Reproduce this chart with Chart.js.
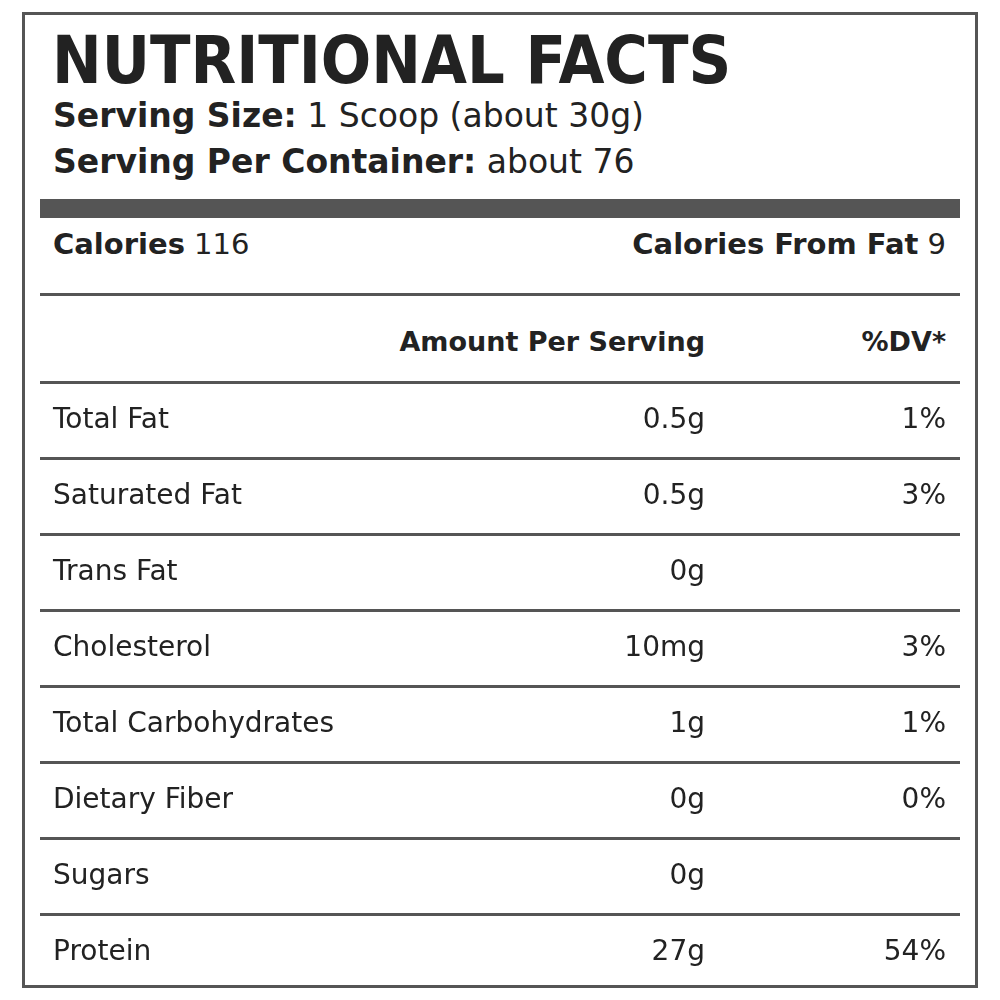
<!DOCTYPE html>
<html>
<head>
<meta charset="utf-8">
<script src="https://cdn.jsdelivr.net/npm/chart.js@4"></script>
<style>
  html, body { margin: 0; padding: 0; background: #fff; }
  body { width: 1000px; height: 1000px; position: relative; font-family: "DejaVu Sans", sans-serif; color: #222; }
  .box { position: absolute; left: 22px; top: 12px; width: 956px; height: 976px; border: 3px solid #555; box-sizing: border-box; }
  .t { position: absolute; white-space: nowrap; line-height: 1; }
  .title { left: 52px; top: 28px; font-size: 66px; font-weight: bold; color: #222; font-family: "DejaVu Sans Condensed", "DejaVu Sans", sans-serif; }
  .sub { font-size: 33px; }
  .bar { position: absolute; left: 40px; top: 199px; width: 920px; height: 19px; background: #555; }
  .rule { position: absolute; left: 40px; width: 920px; height: 3px; background: #555; }
  b { font-weight: bold; }
  #wrap { position: absolute; left: 40px; top: 381px; width: 920px; height: 608px; }
</style>
</head>
<body>
<div class="box"></div>
<div class="t title">NUTRITIONAL FACTS</div>
<div class="t sub" style="left:53px; top:99px;"><b>Serving Size:</b> 1 Scoop (about 30g)</div>
<div class="t sub" style="left:53px; top:145px;"><b>Serving Per Container:</b> about 76</div>
<div class="bar"></div>
<div class="t sub" style="left:53px; top:230px; font-size:29px;"><b>Calories</b> 116</div>
<div class="t sub" style="right:54px; top:230px; font-size:29px;"><b>Calories From Fat</b> 9</div>
<div class="rule" style="top:293px;"></div>
<div class="t" style="right:295px; top:328px; font-size:27px; font-weight:bold;">Amount Per Serving</div>
<div class="t" style="right:54px; top:328px; font-size:27px; font-weight:bold;">%DV*</div>
<div id="wrap"><canvas id="facts"></canvas></div>

<script>
(function () {
  'use strict';

  // --- Data ---
  var NUTRIENTS = ['Total Fat', 'Saturated Fat', 'Trans Fat', 'Cholesterol',
    'Total Carbohydrates', 'Dietary Fiber', 'Sugars', 'Protein'];
  var AMOUNTS = ['0.5g', '0.5g', '0g', '10mg', '1g', '0g', '0g', '27g'];
  var DAILY_VALUES = ['1%', '3%', '', '3%', '1%', '0%', '', '54%'];

  // --- Table rows drawn against the category scale ---
  var rowsPlugin = {
    id: 'factRows',
    afterDraw: function (chart) {
      var ctx = chart.ctx;
      var y = chart.scales.y;
      var left = chart.chartArea.left, right = chart.chartArea.right;
      var half = (y.getPixelForValue(1) - y.getPixelForValue(0)) / 2;

      ctx.save();
      ctx.fillStyle = '#555';
      for (var i = 0; i < NUTRIENTS.length; i++) {
        var top = y.getPixelForValue(i) - half;
        ctx.fillRect(left, top, right - left, 3);
      }

      ctx.fillStyle = '#222';
      ctx.font = '28px "DejaVu Sans", sans-serif';
      ctx.textBaseline = 'middle';
      NUTRIENTS.forEach(function (name, i) {
        var py = y.getPixelForValue(i) + 2;
        ctx.textAlign = 'left';
        ctx.fillText(name, left + 13, py);
        ctx.textAlign = 'right';
        ctx.fillText(AMOUNTS[i], left + 665, py);
        if (DAILY_VALUES[i]) ctx.fillText(DAILY_VALUES[i], left + 906, py);
      });
      ctx.restore();
    }
  };

  new Chart(document.getElementById('facts'), {
    type: 'bar',
    data: {
      labels: NUTRIENTS,
      datasets: [{ data: NUTRIENTS.map(function () { return 0; }), backgroundColor: 'rgba(0,0,0,0)' }]
    },
    options: {
      indexAxis: 'y',
      responsive: true,
      maintainAspectRatio: false,
      animation: false,
      layout: { padding: 0 },
      plugins: { legend: { display: false }, tooltip: { enabled: false } },
      scales: {
        x: { display: false, min: 0, max: 1 },
        y: { display: false }
      }
    },
    plugins: [rowsPlugin]
  });
})();
</script>
</body>
</html>
